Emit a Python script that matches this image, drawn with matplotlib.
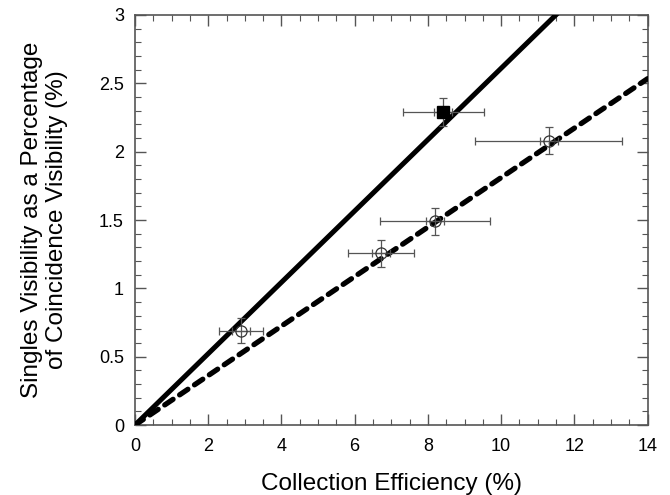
import numpy as np
import matplotlib
matplotlib.use("Agg")
import matplotlib.pyplot as plt
from matplotlib.ticker import MultipleLocator

plt.rcParams['font.family'] = ['Liberation Sans', 'DejaVu Sans']

# data
sq_x = [8.42]
sq_y = [2.29]
sq_xerr = [1.1]
sq_yerr = [0.1]

circ_x = [2.9, 6.71, 8.2, 11.3]
circ_y = [0.69, 1.255, 1.49, 2.08]
circ_xerr = [0.6, 0.9, 1.5, 2.0]
circ_yerr = [0.09, 0.1, 0.1, 0.1]
inner_xerr = 0.25

solid_slope = 0.261
dashed_slope = 0.181

fig = plt.figure(figsize=(6.7, 4.95), dpi=100)
ax = fig.add_axes([0.2015, 0.1414, 0.7650, 0.8283])

x = np.array([0, 14])
ax.plot(x, solid_slope * x, color='black', lw=3.6, solid_capstyle='butt', zorder=3)
ax.plot(x, dashed_slope * x, color='black', lw=3.8, dashes=(1.9, 1.5),
        dash_capstyle='round', zorder=3)

# error bars
ebkw = dict(ecolor='#555555', elinewidth=0.9, capsize=3, capthick=0.9, zorder=4)
ax.errorbar(circ_x, circ_y, xerr=circ_xerr, yerr=circ_yerr, fmt='o', ms=8,
            mfc='none', mec='#333333', mew=0.9, **ebkw)
ax.errorbar(circ_x, circ_y, xerr=inner_xerr, fmt='none', **ebkw)
ax.errorbar(sq_x, sq_y, xerr=sq_xerr, yerr=sq_yerr, fmt='s', ms=8,
            mfc='black', mec='black', **ebkw)
ax.errorbar(sq_x, sq_y, xerr=inner_xerr, fmt='none', **ebkw)

ax.set_xlim(0, 14)
ax.set_ylim(0, 3)
ax.xaxis.set_major_locator(MultipleLocator(2))
ax.xaxis.set_minor_locator(MultipleLocator(0.5))
ax.yaxis.set_minor_locator(MultipleLocator(0.1))
ax.set_yticks([0, 0.5, 1, 1.5, 2, 2.5, 3])
ax.set_yticklabels(['0', '0.5', '1', '1.5', '2', '2.5', '3'])

for s in ax.spines.values():
    s.set_color('#555555')
    s.set_linewidth(1.2)
ax.tick_params(which='both', direction='in', top=True, right=True, color='#555555')
ax.tick_params(which='major', length=8, width=1, labelsize=13)
ax.tick_params(axis='x', which='major', pad=9)
ax.tick_params(axis='y', which='major', pad=8)
ax.tick_params(which='minor', length=4, width=0.8)

ax.set_xlabel('Collection Efficiency (%)', fontsize=17.5, labelpad=13)
ax.set_ylabel('Singles Visibility as a Percentage\nof Coincidence Visibility (%)',
              fontsize=17.5, labelpad=22, linespacing=1.2)

fig.savefig('out.png', dpi=100)
